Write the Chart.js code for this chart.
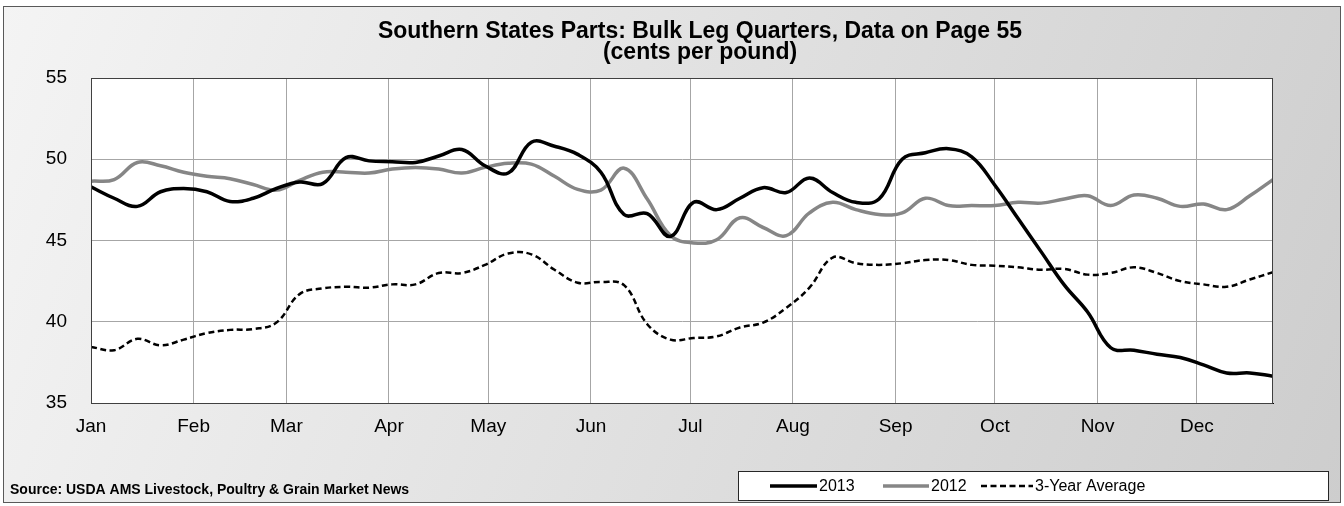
<!DOCTYPE html>
<html>
<head>
<meta charset="utf-8">
<script src="https://cdn.jsdelivr.net/npm/chart.js@4.4.1/dist/chart.umd.min.js"></script>
<style>
	html, body { margin: 0; padding: 0; background: #fff; }
	#wrap { width: 1344px; height: 506px; }
</style>
</head>
<body>
<div id="wrap"><canvas id="chart" width="1344" height="506"></canvas></div>
<script>
const titleLines = ['Southern States Parts: Bulk Leg Quarters, Data on Page 55', '(cents per pound)'];
const sourceText = 'Source: USDA AMS Livestock, Poultry & Grain Market News';

const monthLabels = ['Jan', 'Feb', 'Mar', 'Apr', 'May', 'Jun', 'Jul', 'Aug', 'Sep', 'Oct', 'Nov', 'Dec'];
const monthStartDays = [0, 31, 59, 90, 120, 151, 181, 212, 243, 273, 304, 334];
const yTicks = [35, 40, 45, 50, 55];

// one point per week, day of year
const weekDays = [0, 7, 14, 21, 28, 35, 42, 49, 56, 63, 70, 77, 84, 91, 98, 105, 112, 119, 126, 133, 140, 147, 154, 161, 168, 175,
	182, 189, 196, 203, 210, 217, 224, 231, 238, 245, 252, 259, 266, 273, 280, 287, 294, 301, 308, 315, 322, 329, 336, 343, 350, 357];

const series2013 = [48.3, 47.6, 47.1, 48.0, 48.2, 48.0, 47.4, 47.6, 48.2, 48.6, 48.5, 50.1, 49.9,
	49.85, 49.8, 50.2, 50.6, 49.6, 49.15, 51.05, 50.8, 50.3, 49.2, 46.6, 46.65, 45.25,
	47.35, 46.9, 47.6, 48.25, 47.95, 48.85, 47.95, 47.35, 47.55, 50.0, 50.4, 50.65, 50.15,
	48.4, 46.35, 44.3, 42.25, 40.6, 38.4, 38.25, 38.0, 37.8, 37.35, 36.85, 36.85, 36.65];

const series2012 = [48.65, 48.75, 49.8, 49.6, 49.2, 48.95, 48.8, 48.45, 48.1, 48.7, 49.2, 49.2, 49.15,
	49.4, 49.5, 49.4, 49.15, 49.5, 49.75, 49.7, 48.95, 48.15, 48.1, 49.45, 47.55, 45.3,
	44.85, 45.05, 46.4, 45.8, 45.3, 46.7, 47.35, 46.9, 46.6, 46.7, 47.6, 47.15, 47.15,
	47.15, 47.35, 47.3, 47.55, 47.75, 47.15, 47.8, 47.6, 47.1, 47.25, 46.9, 47.75, 48.75];

const seriesAvg = [38.45, 38.25, 38.95, 38.55, 38.9, 39.3, 39.5, 39.55, 39.95, 41.7, 42.05, 42.15, 42.1,
	42.3, 42.3, 43.0, 43.0, 43.5, 44.2, 44.15, 43.2, 42.4, 42.45, 42.25, 39.85, 38.9,
	39.0, 39.1, 39.65, 39.95, 40.85, 42.1, 43.95, 43.6, 43.5, 43.6, 43.8, 43.8, 43.5,
	43.45, 43.35, 43.2, 43.25, 42.9, 43.0, 43.35, 43.0, 42.5, 42.3, 42.15, 42.6, 43.05];

const FONT = '"Liberation Sans", Arial, sans-serif';

// legend sample start and length, per dataset
const legendSlots = [[770, 47], [883, 46], [981, 52]];

function toPoints(values) {
	return values.map((value, index) => ({ x: weekDays[index], y: value }));
}

const frame = {
	id: 'frame',
	beforeDraw(chart) {
		const ctx = chart.ctx;
		const area = chart.chartArea;
		const w = chart.width;
		const h = chart.height;

		ctx.save();
		const bg = ctx.createLinearGradient(0, 0, w, h);
		bg.addColorStop(0, '#f4f4f4');
		bg.addColorStop(1, '#cdcdcd');
		ctx.fillStyle = bg;
		ctx.fillRect(3, 6, w - 6, h - 9);
		ctx.strokeStyle = '#595959';
		ctx.lineWidth = 1;
		ctx.strokeRect(3.5, 6.5, w - 7, h - 10);

		ctx.fillStyle = '#ffffff';
		ctx.fillRect(area.left, area.top, area.right - area.left, area.bottom - area.top);
		ctx.restore();
	},
	afterDraw(chart) {
		const ctx = chart.ctx;
		const area = chart.chartArea;

		ctx.save();
		ctx.strokeStyle = '#404040';
		ctx.lineWidth = 1;
		ctx.strokeRect(area.left + 0.5, area.top + 0.5, area.right - area.left - 1, area.bottom - area.top);

		// title
		ctx.fillStyle = '#000';
		ctx.textAlign = 'center';
		ctx.textBaseline = 'alphabetic';
		ctx.font = 'bold 23px ' + FONT;
		ctx.fillText(titleLines[0], 700, 38);
		ctx.fillText(titleLines[1], 700, 59);

		// source
		ctx.textAlign = 'left';
		ctx.font = 'bold 14px ' + FONT;
		ctx.fillText(sourceText, 10, 494);

		// legend
		ctx.fillStyle = '#fff';
		ctx.fillRect(738, 471, 590, 29);
		ctx.strokeStyle = '#262626';
		ctx.strokeRect(738.5, 471.5, 590, 29);

		ctx.font = '16px ' + FONT;
		ctx.textBaseline = 'middle';
		const cy = 486;
		chart.data.datasets.forEach((ds, i) => {
			const x = legendSlots[i][0];
			const len = legendSlots[i][1];
			ctx.strokeStyle = ds.borderColor;
			ctx.lineWidth = ds.borderWidth;
			ctx.setLineDash(ds.borderDash || []);
			ctx.beginPath();
			ctx.moveTo(x, cy);
			ctx.lineTo(x + len, cy);
			ctx.stroke();
			ctx.setLineDash([]);
			ctx.fillStyle = '#000';
			ctx.fillText(ds.label, x + len + 2, cy + 1);
		});
		ctx.restore();
	}
};

new Chart(document.getElementById('chart').getContext('2d'), {
	type: 'line',
	data: {
		datasets: [
			{
				label: '2013',
				data: toPoints(series2013),
				borderColor: '#000000',
				borderWidth: 3.5
			},
			{
				label: '2012',
				data: toPoints(series2012),
				borderColor: '#868686',
				borderWidth: 3.5
			},
			{
				label: '3-Year Average',
				data: toPoints(seriesAvg),
				borderColor: '#000000',
				borderWidth: 2.5,
				borderDash: [6, 3.5]
			}
		]
	},
	options: {
		responsive: false,
		animation: false,
		layout: {
			autoPadding: false,
			padding: { left: 3, top: 78, right: 71, bottom: 63 }
		},
		plugins: {
			legend: { display: false },
			title: { display: false },
			tooltip: { enabled: false }
		},
		elements: {
			point: { radius: 0 },
			line: { tension: 0.4, fill: false }
		},
		scales: {
			x: {
				type: 'linear',
				min: 0,
				max: 357,
				afterBuildTicks(scale) {
					scale.ticks = monthStartDays.map((day) => ({ value: day }));
				},
				afterFit(scale) {
					scale.height = 40;
				},
				ticks: {
					autoSkip: false,
					maxRotation: 0,
					padding: 12,
					color: '#000',
					font: { family: FONT, size: 19 },
					callback: (value) => monthLabels[monthStartDays.indexOf(value)]
				},
				grid: { color: '#a6a6a6', lineWidth: 1, drawTicks: false },
				border: { color: '#000', width: 1 }
			},
			y: {
				min: 35,
				max: 55,
				afterBuildTicks(scale) {
					scale.ticks = yTicks.map((v) => ({ value: v }));
				},
				afterFit(scale) {
					scale.width = 88;
				},
				ticks: {
					padding: 24,
					color: '#000',
					font: { family: FONT, size: 19 }
				},
				grid: { color: '#a6a6a6', lineWidth: 1, drawTicks: false },
				border: { color: '#000', width: 1 }
			}
		}
	},
	plugins: [frame]
});
</script>
</body>
</html>
